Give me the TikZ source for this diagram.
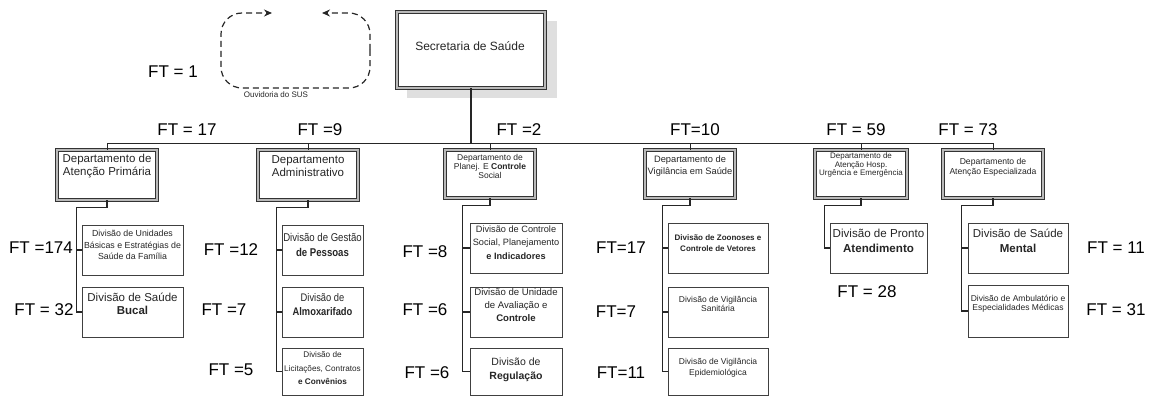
\documentclass[tikz,border=0pt]{standalone}
\usepackage{fontspec}
\setmainfont{Liberation Sans}
\newfontfamily\narrowsans[FakeStretch=0.85]{Liberation Sans}
\usetikzlibrary{arrows.meta}
\newcommand\fsz[2]{\fontsize{#1}{#2}\selectfont}
\begin{document}
\begin{tikzpicture}[x=1pt,y=-1pt,
  ft/.style={font=\fsz{17}{20}\selectfont, inner sep=0pt},
  deptbox/.style={draw=black!80, line width=0.8pt, double=gray!55, double distance=2.4pt, fill=white, inner sep=0pt},
  divbox/.style={draw=black!75, line width=1pt, fill=white, inner sep=0pt},
  conn/.style={draw=black!85, line width=1.2pt},
  ouv/.style={draw=black!85, line width=1.2pt, dash pattern=on 6pt off 4pt, rounded corners=21pt},
  txt/.style={align=center, text=black!85, inner sep=0pt}]
\useasboundingbox[fill=white] (0,0) rectangle (1155,396);

% Ouvidoria
\draw[ouv, -{Stealth[length=8pt,width=7pt]}] (370,50) -- (370,88) -- (221,88) -- (221,13) -- (272,13);
\draw[ouv, -{Stealth[length=8pt,width=7pt]}] (370,50) -- (370,13) -- (322,13);
\node[txt, font=\fsz{8}{9}\selectfont] (ouvt) at (276,95) {Ouvidoria do SUS};
\node[ft] (ft0) at (173,72) {FT = 1};

% Secretaria
\fill[gray!25] (407,21) rectangle (557,98);
\node[deptbox, minimum width=148pt, minimum height=76pt] (sec) at (471,50) {};
\node[txt, font=\fsz{12}{14}\selectfont] (sect) at (470,46) {Secretaria de Saúde};

% bar
\coordinate (barL) at (107,143);
\coordinate (barR) at (993,143);
\draw[conn, line width=1pt] (barL) -- (barR);
\draw[conn, line width=1.5pt] (sec.south) -- (sec.south |- barL);

% departments
\node[deptbox, minimum width=100pt, minimum height=50pt] (d1) at (107,175) {};
\node[deptbox, minimum width=100pt, minimum height=50pt] (d2) at (308,175) {};
\node[deptbox, minimum width=90pt, minimum height=48pt] (d3) at (490,174) {};
\node[deptbox, minimum width=90pt, minimum height=48pt] (d4) at (690,174) {};
\node[deptbox, minimum width=92pt, minimum height=48pt] (d5) at (861,174) {};
\node[deptbox, minimum width=100pt, minimum height=48pt] (d6) at (993,174) {};
\foreach \d in {d1,d2,d3,d4,d5,d6} {\draw[conn, line width=1pt] (\d.north) -- (\d.north |- barL);}

\node[txt, font=\fsz{11.5}{13}\selectfont] (d1t) at (107,166.5) {Departamento de\\Atenção Primária};
\node[txt, font=\fsz{11.5}{13}\selectfont] (d2t) at (308,166.5) {Departamento\\Administrativo};
\node[txt, font=\fsz{8.5}{8.8}\selectfont] (d3t) at (490,166.5) {Departamento de\\Planej. E \textbf{Controle}\\Social};
\node[txt, font=\fsz{9.3}{12}\selectfont] (d4t) at (690,166) {Departamento de\\Vigilância em Saúde};
\node[txt, font=\fsz{8}{8.5}\selectfont] (d5t) at (861,165) {Departamento de\\Atenção Hosp.\\Urgência e Emergência};
\node[txt, font=\fsz{8.6}{10}\selectfont] (d6t) at (993,167) {Departamento de\\Atenção Especializada};

% FT above departments
\node[ft] (f1) at (187,130) {FT = 17};
\node[ft] (f2) at (320,130) {FT =9};
\node[ft] (f3) at (519,130) {FT =2};
\node[ft] (f4) at (695,130) {FT=10};
\node[ft] (f5) at (856,130) {FT = 59};
\node[ft] (f6) at (968,130) {FT = 73};

% column 1
\node[divbox, minimum width=101pt, minimum height=50pt] (v11) at (132.5,250) {};
\node[divbox, minimum width=101pt, minimum height=50pt] (v12) at (132.5,312) {};
\draw[conn] (d1.south) -- ++(0,7) -| ([xshift=-5pt]v12.west) -- (v12.west);
\draw[conn] ([xshift=-5pt]v11.west) -- (v11.west);
\node[txt, font=\fsz{8.8}{11.5}\selectfont] (v11t) at (132.5,245) {Divisão de Unidades\\Básicas e Estratégias de\\Saúde da Família};
\node[txt, font=\fsz{11.5}{13}\selectfont] (v12t) at (132.5,303.5) {Divisão de Saúde\\\textbf{Bucal}};
\node[ft] (g11) at (41,248) {FT =174};
\node[ft] (g12) at (44,310) {FT = 32};

% column 2
\node[divbox, minimum width=81pt, minimum height=50pt] (v21) at (322.5,250) {};
\node[divbox, minimum width=81pt, minimum height=50pt] (v22) at (322.5,312) {};
\node[divbox, minimum width=81pt, minimum height=47pt] (v23) at (322.5,371.5) {};
\draw[conn] (d2.south) -- ++(0,7) -| ([xshift=-5pt]v23.west) -- (v23.west);
\draw[conn] ([xshift=-5pt]v21.west) -- (v21.west);
\draw[conn] ([xshift=-5pt]v22.west) -- (v22.west);
\node[txt, font=\narrowsans\fsz{11.3}{15}\selectfont] (v21t) at (322.5,244.5) {Divisão de Gestão\\\textbf{de Pessoas}};
\node[txt, font=\narrowsans\fsz{11}{14}\selectfont] (v22t) at (322.5,305) {Divisão de\\\textbf{Almoxarifado}};
\node[txt, font=\fsz{8.2}{13.5}\selectfont] (v23t) at (322.5,368.5) {Divisão de\\Licitações, Contratos\\\textbf{e Convênios}};
\node[ft] (g21) at (231,250) {FT =12};
\node[ft] (g22) at (224,310) {FT =7};
\node[ft] (g23) at (231,370) {FT =5};

% column 3
\node[divbox, minimum width=92pt, minimum height=50pt] (v31) at (516,248) {};
\node[divbox, minimum width=92pt, minimum height=50pt] (v32) at (516,312) {};
\node[divbox, minimum width=92pt, minimum height=47pt] (v33) at (516,371.5) {};
\draw[conn] (d3.south) -- ++(0,7) -| ([xshift=-7pt]v33.west) -- (v33.west);
\draw[conn] ([xshift=-7pt]v31.west) -- (v31.west);
\draw[conn] ([xshift=-7pt]v32.west) -- (v32.west);
\node[txt, font=\fsz{9.2}{13.5}\selectfont] (v31t) at (516,242.5) {Divisão de Controle\\Social, Planejamento\\\textbf{e Indicadores}};
\node[txt, font=\fsz{9.6}{13}\selectfont] (v32t) at (516,305) {Divisão de Unidade\\de Avaliação e\\\textbf{Controle}};
\node[txt, font=\fsz{10.5}{14}\selectfont] (v33t) at (516,370) {Divisão de\\\textbf{Regulação}};
\node[ft] (g31) at (425,252) {FT =8};
\node[ft] (g32) at (425,310) {FT =6};
\node[ft] (g33) at (427,373) {FT =6};

% column 4
\node[divbox, minimum width=100pt, minimum height=50pt] (v41) at (718,248) {};
\node[divbox, minimum width=100pt, minimum height=50pt] (v42) at (718,312) {};
\node[divbox, minimum width=100pt, minimum height=47pt] (v43) at (718,371.5) {};
\draw[conn] (d4.south) -- ++(0,7) -| ([xshift=-5pt]v43.west) -- (v43.west);
\draw[conn] ([xshift=-5pt]v41.west) -- (v41.west);
\draw[conn] ([xshift=-5pt]v42.west) -- (v42.west);
\node[txt, font=\bfseries\fsz{8}{11}\selectfont] (v41t) at (718,243.5) {Divisão de Zoonoses e\\Controle de Vetores};
\node[txt, font=\fsz{8.5}{9.5}\selectfont] (v42t) at (718,304) {Divisão de Vigilância\\Sanitária};
\node[txt, font=\fsz{8.5}{10.5}\selectfont] (v43t) at (718,368) {Divisão de Vigilância\\Epidemiológica};
\node[ft] (g41) at (621,248) {FT=17};
\node[ft] (g42) at (616,312) {FT=7};
\node[ft] (g43) at (621,373) {FT=11};

% column 5
\node[divbox, minimum width=97pt, minimum height=50pt] (v51) at (878.5,248) {};
\draw[conn] (d5.south) -- ++(0,7) -| ([xshift=-5pt]v51.west) -- (v51.west);
\node[txt, font=\fsz{11.6}{15}\selectfont] (v51t) at (878.5,240.5) {Divisão de Pronto\\\textbf{Atendimento}};
\node[ft] (g51) at (867,292) {FT = 28};

% column 6
\node[divbox, minimum width=100pt, minimum height=50pt] (v61) at (1018,248) {};
\node[divbox, minimum width=100pt, minimum height=52pt] (v62) at (1018,311) {};
\draw[conn] (d6.south) -- ++(0,7) -| ([xshift=-6pt]v62.west) -- (v62.west);
\draw[conn] ([xshift=-6pt]v61.west) -- (v61.west);
\node[txt, font=\fsz{11.5}{15}\selectfont] (v61t) at (1018,240.5) {Divisão de Saúde\\\textbf{Mental}};
\node[txt, font=\fsz{8.5}{9}\selectfont] (v62t) at (1018,304) {Divisão de Ambulatório e\\Especialidades Médicas};
\node[ft] (g61) at (1116,248) {FT = 11};
\node[ft] (g62) at (1116,310) {FT = 31};
\end{tikzpicture}
\end{document}
